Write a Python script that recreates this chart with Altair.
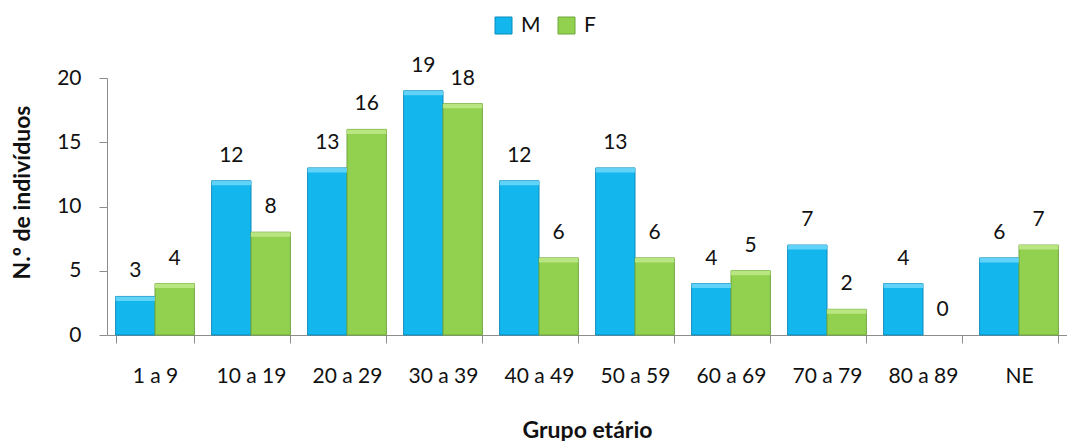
import altair as alt
import pandas as pd

groups = ["1 a 9", "10 a 19", "20 a 29", "30 a 39", "40 a 49", "50 a 59",
          "60 a 69", "70 a 79", "80 a 89", "NE"]
m_vals = [3, 12, 13, 19, 12, 13, 4, 7, 4, 6]
f_vals = [4, 8, 16, 18, 6, 6, 5, 2, 0, 7]
series = ["M", "F"]
colors = ["#14B6EE", "#92D050"]
edge_colors = ["#0A8CBD", "#6EA83A"]
top_colors = ["#6FD8FA", "#C0EA8A"]

rows = []
for g, m, f in zip(groups, m_vals, f_vals):
    rows.append({"grupo": g, "sexo": "M", "valor": m})
    rows.append({"grupo": g, "sexo": "F", "valor": f})
df = pd.DataFrame(rows)

FONT = "Lato"

x = alt.X("grupo:N", sort=groups, title="Grupo etário",
          scale=alt.Scale(paddingInner=0.18, paddingOuter=0.09),
          axis=alt.Axis(labelAngle=0, tickBand="extent", tickSize=8,
                        labelPadding=22, titlePadding=33, titleFontSize=23,
                        domainColor="#8c8c8c", tickColor="#8c8c8c"))
xo = alt.XOffset("sexo:N", sort=series, scale=alt.Scale(paddingInner=0))
y = alt.Y("valor:Q", title="N.º de indivíduos",
          scale=alt.Scale(domain=[0, 20], nice=False),
          axis=alt.Axis(values=[0, 5, 10, 15, 20], grid=False, tickSize=8,
                        labelPadding=18, titlePadding=22, titleFontSize=23,
                        titleY=114,
                        domainColor="#8c8c8c", tickColor="#8c8c8c"))
color = alt.Color("sexo:N", sort=series,
                  scale=alt.Scale(domain=series, range=colors),
                  legend=alt.Legend(title=None, orient="none", direction="horizontal",
                                    legendX=386, legendY=-63, symbolType="square",
                                    symbolSize=289, symbolStrokeWidth=1,
                                    labelFontSize=21, labelFont=FONT,
                                    columnPadding=15, labelOffset=7,
                                    labelColor="#111111",
                                    symbolStrokeColor="#7a9aa8"))
stroke = alt.Stroke("sexo:N", sort=series,
                    scale=alt.Scale(domain=series, range=edge_colors), legend=None)

base = alt.Chart(df).encode(x=x, xOffset=xo, y=y)

bars = base.mark_bar(strokeWidth=1).encode(color=color, stroke=stroke).transform_filter(
    "datum.valor > 0")
tops = alt.Chart(df).transform_filter("datum.valor > 0").transform_calculate(
    top2="datum.valor - 0.35"
).mark_bar(opacity=0.85).encode(
    x=x, xOffset=xo, y=alt.Y("valor:Q"), y2="top2:Q",
    fill=alt.Fill("sexo:N", sort=series,
                  scale=alt.Scale(domain=series, range=top_colors), legend=None),
)
labels = base.mark_text(baseline="alphabetic", dy=-19, fontSize=21, font=FONT,
                        color="#111111").encode(text="valor:Q")

chart = (bars + tops + labels).resolve_scale(fill="independent").properties(
    width=960, height=257,
    autosize=alt.AutoSizeParams(type="none"),
    padding={"left": 107, "top": 78, "right": 0, "bottom": 106},
).configure_view(stroke=None).configure_axis(
    labelFont=FONT, titleFont=FONT, labelFontSize=21,
    titleFontWeight="bold", labelColor="#111111", titleColor="#111111"
)

chart.save("out.html", embed_options={"renderer": "svg", "actions": False})
